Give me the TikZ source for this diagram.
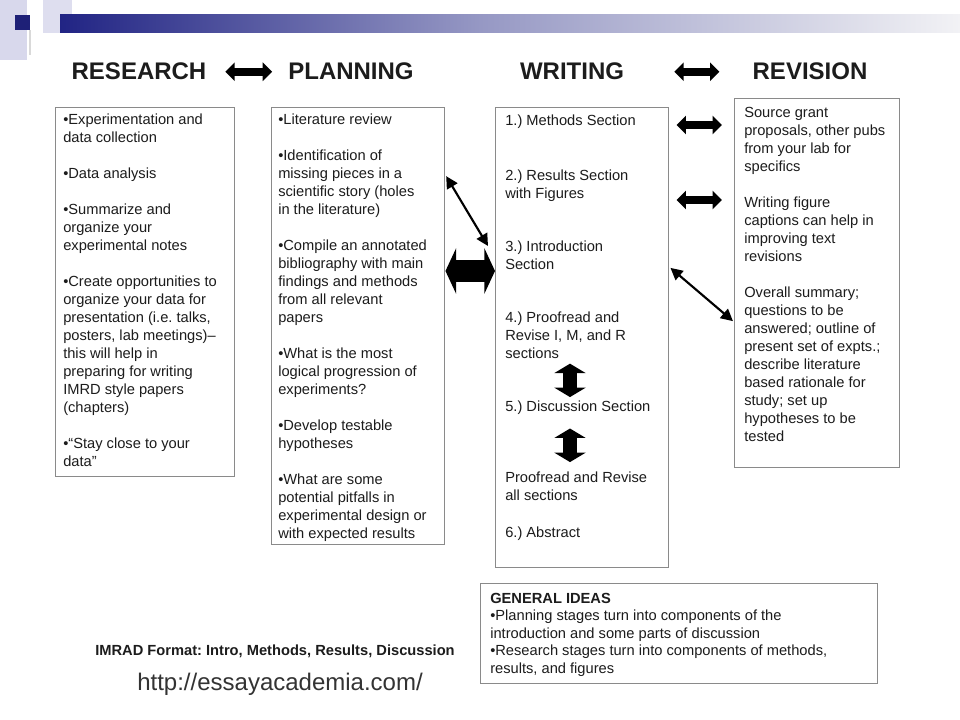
\documentclass[tikz,border=0pt]{standalone}
\usepackage{fontspec}
\setmainfont{Liberation Sans}
\usetikzlibrary{arrows.meta}

\definecolor{slidenavy}{RGB}{33,36,132}
\definecolor{slidelav}{RGB}{150,152,196}
\definecolor{slidefade}{RGB}{242,242,245}
\definecolor{decolav}{RGB}{216,216,236}
\definecolor{boxgray}{RGB}{138,138,138}
\definecolor{inkgray}{RGB}{28,28,28}

\tikzset{
  panel/.style={draw=boxgray, line width=1.1pt, inner sep=0pt, anchor=north west},
  bodytext/.style={font=\fontsize{11}{13.5}\selectfont, text=inkgray, align=left, inner sep=0pt, anchor=north west},
  ideatext/.style={font=\fontsize{11}{13.1}\selectfont, text=inkgray, align=left, inner sep=0pt, anchor=north west},
  heading/.style={font=\fontsize{18}{21}\selectfont\bfseries, text=inkgray, inner sep=0pt, anchor=base},
  fatarr/.style={line width=6pt, {Triangle[length=7pt,width=13.5pt]}-{Triangle[length=7pt,width=13.5pt]}},
  bigarr/.style={line width=16.5pt, {Triangle[length=8pt,width=34pt]}-{Triangle[length=8pt,width=34pt]}},
  vertarr/.style={line width=11pt, {Triangle[length=7pt,width=23pt]}-{Triangle[length=7pt,width=23pt]}},
  slimarr/.style={line width=1.6pt, {Triangle[length=9pt,width=9pt]}-{Triangle[length=9pt,width=9pt]}},
}
\newcommand{\gap}{\\[13.5pt]}
\frenchspacing

\begin{document}
\begin{tikzpicture}[x=0.75pt,y=0.75pt,yscale=-1,xscale=1]
\useasboundingbox (0,0) rectangle (960,720);
\fill[white] (0,0) rectangle (960,720);

%Shape: slide header
\fill[decolav] (0,0) rectangle (27,60);
\fill[decolav!85] (43,0) rectangle (72,33);
\shade[left color=slidenavy, right color=slidelav] (60,15) rectangle (480,33);
\shade[left color=slidelav, right color=slidefade] (480,15) rectangle (960,33);
\fill[slidenavy!90!black] (15,15) rectangle (30,30);
\fill[gray!30] (29,30) rectangle (31,55);

% Text Node
\node[heading] (hres) at (139,80) {RESEARCH};
\node[heading] (hplan) at (351,80) {PLANNING};
\node[heading] (hwrite) at (572,80) {WRITING};
\node[heading] (hrev) at (810,80) {REVISION};

%Shape: Rectangle
\node[panel, minimum width=134.25pt, minimum height=276.75pt] (research) at (55,107) {};
\node[panel, minimum width=129.75pt, minimum height=327.75pt] (plan) at (271,107) {};
\node[panel, minimum width=129.75pt, minimum height=345pt] (write) at (495,107) {};
\node[panel, minimum width=123.75pt, minimum height=276.75pt] (revise) at (734,98) {};
\node[panel, minimum width=297.75pt, minimum height=75pt] (ideas) at (480,583) {};

% Text Node
\node[bodytext] (restxt) at (63,111.4) {\strut•Experimentation and\\data collection\gap
•Data analysis\gap
•Summarize and\\organize your\\experimental notes\gap
•Create opportunities to\\organize your data for\\presentation (i.e. talks,\\posters, lab meetings)--\\this will help in\\preparing for writing\\IMRD style papers\\(chapters)\gap
•``Stay close to your\\data''};

% Text Node
\node[bodytext] (plantxt) at (278,111.4) {\strut•Literature review\gap
•Identification of\\missing pieces in a\\scientific story (holes\\in the literature)\gap
•Compile an annotated\\bibliography with main\\findings and methods\\from all relevant\\papers\gap
•What is the most\\logical progression of\\experiments?\gap
•Develop testable\\hypotheses\gap
•What are some\\potential pitfalls in\\experimental design or\\with expected results};

% Text Node
\node[bodytext] (w1) at (505,112.4) {\strut1.) Methods Section};
\node[bodytext] (w2) at (505,167.4) {\strut2.) Results Section\\with Figures};
\node[bodytext] (w3) at (505,238.4) {\strut3.) Introduction\\Section};
\node[bodytext] (w4) at (505,309.4) {\strut4.) Proofread and\\Revise I, M, and R\\sections};
\node[bodytext] (w5) at (505,398.4) {\strut5.) Discussion Section};
\node[bodytext] (w6) at (505,469.4) {\strut Proofread and Revise\\all sections};
\node[bodytext] (w7) at (505,524.4) {\strut6.) Abstract};

% Text Node
\node[bodytext] (revtxt) at (744,104.4) {\strut Source grant\\proposals, other pubs\\from your lab for\\specifics\gap
Writing figure\\captions can help in\\improving text\\revisions\gap
Overall summary;\\questions to be\\answered; outline of\\present set of expts.;\\describe literature\\based rationale for\\study; set up\\hypotheses to be\\tested};

% Text Node
\node[ideatext] (ideatxt) at (490,590.8) {\strut\textbf{GENERAL IDEAS}\\
•Planning stages turn into components of the\\introduction and some parts of discussion\\
•Research stages turn into components of methods,\\results, and figures};

% Text Node
\node[anchor=base, inner sep=0pt, font=\fontsize{11}{12}\selectfont\bfseries, text=inkgray] (imrad) at (275,655) {IMRAD Format: Intro, Methods, Results, Discussion};
\node[anchor=base, inner sep=0pt, font=\fontsize{18}{21}\selectfont, text=black!80] (url) at (280,690) {http://essayacademia.com/};

%Straight Lines: header arrows
\draw[fatarr, shorten <=14pt, shorten >=12pt] (hres) -- (hplan);
\draw[fatarr, shorten <=37.5pt, shorten >=24.75pt] (hwrite) -- (hrev);

%Straight Lines: planning to writing
\coordinate (pwA) at (0,175);
\coordinate (pwB) at (488,246);
\coordinate (pwC) at (0,271);
\draw[slimarr, shorten <=1pt] (plan.east |- pwA) -- (pwB);
\draw[bigarr] (plan.east |- pwC) -- (write.west |- pwC);

%Straight Lines: writing to revision
\coordinate (wrA) at (0,125);
\coordinate (wrB) at (0,200);
\coordinate (wrC) at (0,267);
\coordinate (wrD) at (0,322);
\draw[fatarr, shorten <=5.25pt, shorten >=9pt] (write.east |- wrA) -- (revise.west |- wrA);
\draw[fatarr, shorten <=5.25pt, shorten >=9pt] (write.east |- wrB) -- (revise.west |- wrB);
\draw[slimarr, shorten <=1pt, shorten >=1pt] (write.east |- wrC) -- (revise.west |- wrD);

%Straight Lines: inside writing
\coordinate (vx) at (570,0);
\draw[vertarr, shorten <=3.75pt, shorten >=1pt] (w4.south -| vx) -- (w5.north -| vx);
\draw[vertarr, shorten <=8.7pt, shorten >=5.5pt] (w5.south -| vx) -- (w6.north -| vx);

\end{tikzpicture}
\end{document}
